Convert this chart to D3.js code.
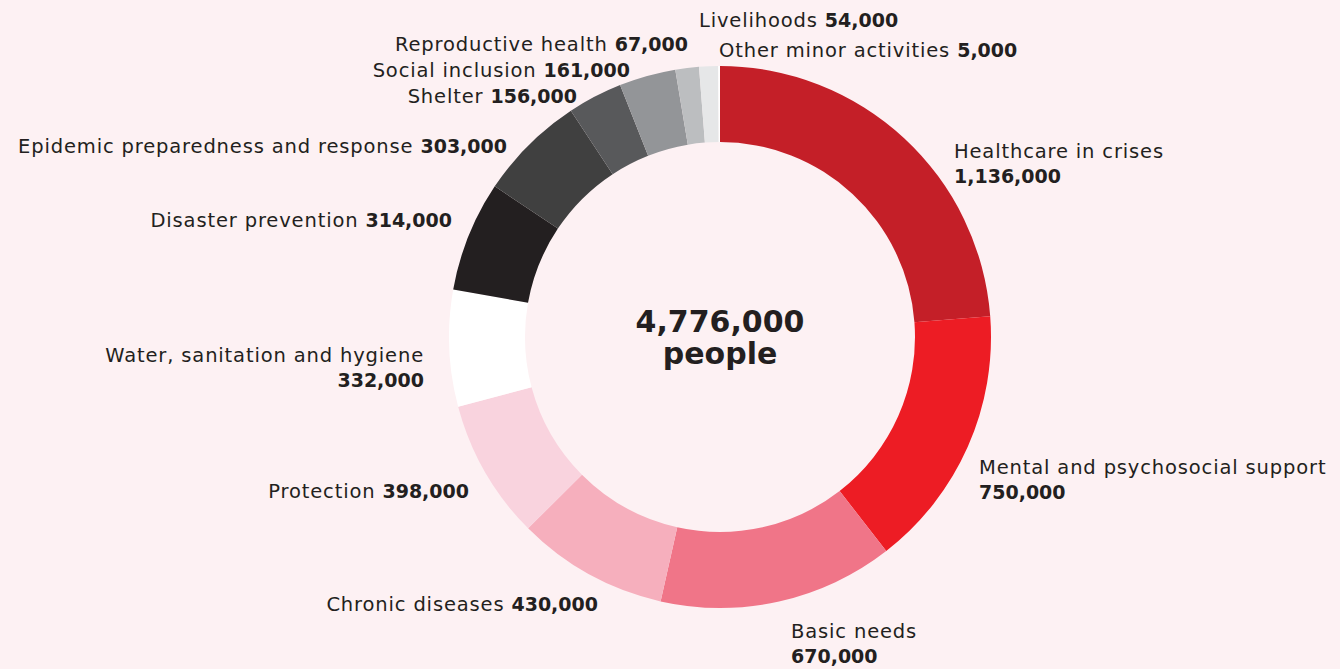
<!DOCTYPE html>
<html><head><meta charset="utf-8">
<script src="https://cdn.jsdelivr.net/npm/d3@7"></script>
<style>
html,body{margin:0;padding:0;background:#fdf1f3;}
svg{display:block;font-family:"DejaVu Sans",sans-serif;}
</style></head>
<body><svg id="c" width="1340" height="669"></svg>
<script>
const categories = ["Healthcare in crises","Mental and psychosocial support","Basic needs","Chronic diseases","Protection","Water, sanitation and hygiene","Disaster prevention","Epidemic preparedness and response","Shelter","Social inclusion","Reproductive health","Livelihoods","Other minor activities"];
const values = [1136000,750000,670000,430000,398000,332000,314000,303000,156000,161000,67000,54000,5000];
const colors = ["#c41f28","#ed1c24","#f07588","#f6afbd","#f9d3de","#ffffff","#231f20","#404040","#58595b","#939598","#bcbec0","#e6e7e8","#ffffff"];
const totalLabel = "people";

// label layout: [x, y(baseline), anchor, twoLines]
const labelLayout = [
  [954,158,"start",true],
  [979,474,"start",true],
  [791,638,"start",true],
  [598,611,"end",false],
  [469,498,"end",false],
  [424,362,"end",true],
  [452,227,"end",false],
  [507,153,"end",false],
  [577,103,"end",false],
  [630,77,"end",false],
  [688,51,"end",false],
  [699,27,"start",false],
  [719,57,"start",false]
];

const svg = d3.select("#c");
const cx = 720, cy = 337, rOuter = 271, rInner = 195;
const fmt = d3.format(",");
const data = categories.map((c,i)=>({cat:c, value:values[i], color:colors[i], i}));
const pie = d3.pie().sort(null).value(d=>d.value);
const arc = d3.arc().innerRadius(rInner).outerRadius(rOuter);
const g = svg.append("g").attr("transform",`translate(${cx},${cy})`);
g.selectAll("path").data(pie(data)).join("path")
  .attr("d",arc).attr("fill",d=>d.data.color);

const total = d3.sum(values);
g.append("text").attr("text-anchor","middle").attr("y",-5)
  .attr("font-size",30).attr("font-weight",700).attr("fill","#231f20").text(fmt(total));
g.append("text").attr("text-anchor","middle").attr("y",27)
  .attr("font-size",30).attr("font-weight",700).attr("fill","#231f20").text(totalLabel);

const lab = svg.append("g").attr("font-size",19.5).attr("fill","#231f20");
const regSpacing = 0.85;
data.forEach((d,i)=>{
  const [x,y,anchor,two] = labelLayout[i];
  if(two){
    lab.append("text").attr("x",x).attr("y",y).attr("text-anchor",anchor)
      .attr("letter-spacing",regSpacing).text(d.cat);
    lab.append("text").attr("x",x).attr("y",y+25).attr("text-anchor",anchor)
      .attr("font-weight",700).attr("font-size",19).text(fmt(d.value));
  } else {
    const t = lab.append("text").attr("x",x).attr("y",y).attr("text-anchor",anchor);
    t.append("tspan").attr("letter-spacing",regSpacing).text(d.cat+" ");
    t.append("tspan").attr("font-weight",700).attr("font-size",19).text(fmt(d.value));
  }
});
</script></body></html>
